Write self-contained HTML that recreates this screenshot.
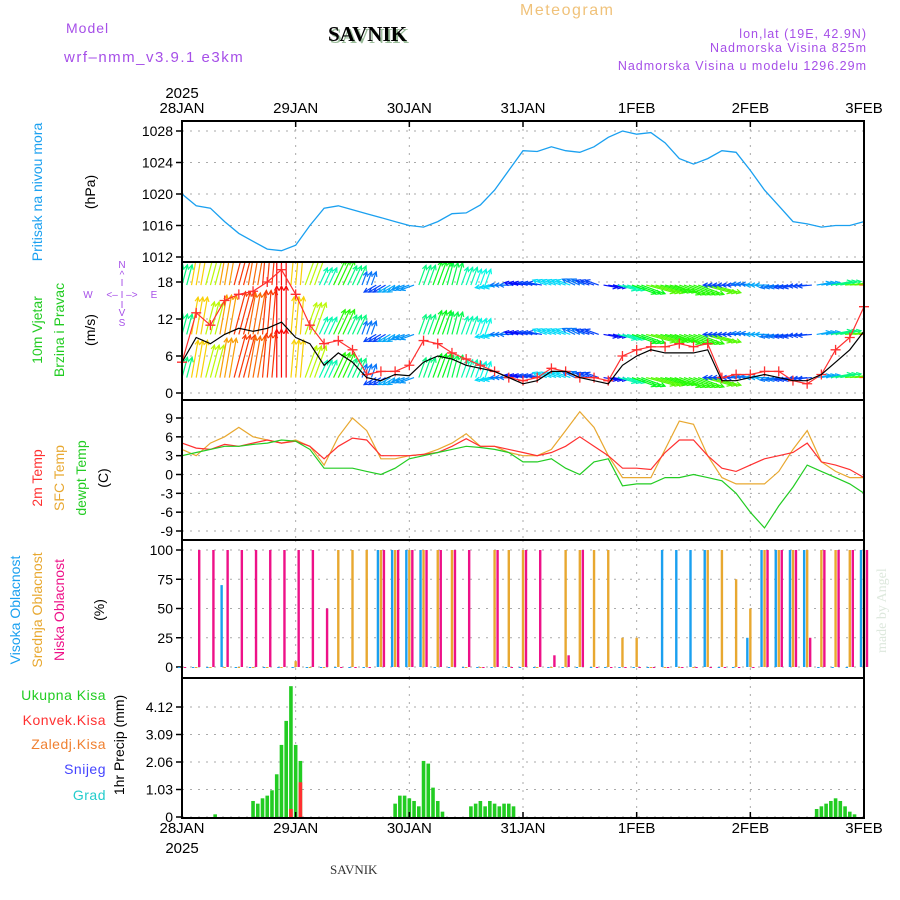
<!DOCTYPE html>
<html><head><meta charset="utf-8">
<style>
body{margin:0;background:#fff;}
svg{display:block;font-family:"Liberation Sans",sans-serif;}
</style></head>
<body>
<svg id="chart" width="900" height="900" viewBox="0 0 900 900" xmlns="http://www.w3.org/2000/svg">
<g>
<text x="66" y="33" font-size="14" fill="#a64fe8" letter-spacing="1">Model</text>
<text x="330" y="43" font-size="21" font-weight="bold" font-family="Liberation Serif,serif" fill="#9b9">SAVNIK</text>
<text x="328" y="41" font-size="21" font-weight="bold" font-family="Liberation Serif,serif" fill="#000">SAVNIK</text>
<text x="520" y="15" font-size="16" fill="#f0c27a" letter-spacing="1.5">Meteogram</text>
<text x="64" y="62" font-size="15" fill="#a64fe8" letter-spacing="1.5">wrf–nmm_v3.9.1 e3km</text>
<text x="867" y="38" font-size="12.5" fill="#a64fe8" text-anchor="end" letter-spacing="1">lon,lat (19E, 42.9N)</text>
<text x="867" y="52" font-size="12.5" fill="#a64fe8" text-anchor="end" letter-spacing="1">Nadmorska Visina 825m</text>
<text x="867" y="70" font-size="12.5" fill="#a64fe8" text-anchor="end" letter-spacing="1">Nadmorska Visina u modelu 1296.29m</text>
<text x="330" y="874" font-size="13" font-family="Liberation Serif,serif" fill="#333">SAVNIK</text>
<text x="0" y="0" font-size="14" fill="#dde8dd" font-family="Liberation Serif,serif" transform="translate(886,653) rotate(-90)">made by Angel</text>
</g>
<g id="plots"></g>
</svg>
<script>
// ---- data (3-hourly, 28JAN 00 .. 3FEB 00) ----
const dayLabels=["28JAN","29JAN","30JAN","31JAN","1FEB","2FEB","3FEB"];
const pressure=[1020,1018.5,1018.2,1016.5,1015,1014,1013,1012.8,1013.5,1016,1018.2,1018.5,1018,1017.5,1017,1016.5,1016,1015.8,1016.5,1017.5,1017.6,1018.6,1020.5,1023,1025.5,1025.4,1026,1025.5,1025.3,1026,1027.2,1028,1027.6,1027.8,1026.5,1024.5,1023.8,1024.5,1025.5,1025.3,1023,1020.5,1018.5,1016.5,1016.2,1015.8,1016,1016,1016.5];
const windSpeed=[5,9,8,9.5,10.5,10,10.5,11.5,9,8,4.5,6.5,5,2.5,2,3,2.8,5,6,5.5,4.5,4,3.5,2.5,1.5,2,3.5,3.5,2.5,2,1.5,4.5,6,7,6.5,6.5,6.5,7,2,2,2.5,3,2.5,2,2,3,5,7,10];
const windGust=[5,13,11,15,16,16.5,18,20,16,11,8,8.5,7,3,3.5,3.5,4.5,8.5,8,6.5,5.5,4.5,3.5,2.5,2,2.5,4,3.5,2.5,2.5,2,6,7,7.5,7.5,8,7.5,8,2.5,3,3,3.5,3.5,2,1.5,3,7,9,14];
const windDir=[15,10,15,10,15,10,5,0,5,20,25,25,25,20,240,240,250,20,20,15,20,20,260,270,280,280,290,290,295,290,100,105,110,105,105,110,110,105,270,270,275,270,260,260,265,80,80,85,90];
const temp2m=[5,4.2,4,4.8,4.5,5,5.5,5,5.3,4.5,2.5,4.5,5.8,5.5,3,3,3,3.2,3.5,4.5,5.7,4.5,4.5,4,3.5,3,3.5,4.5,6,4.5,3,1,1,0.8,3.5,5.5,5.5,3,1,0.5,1.5,2.5,3,3.5,5,2,1.5,0.8,-0.5];
const tempSfc=[4,3,5,6,7.5,6,5.5,5,5.5,4.5,1.5,6,9,7,2.5,2.5,3,3.2,4,5,6.5,4.5,4.5,3.5,3,3,4,7,10,7.5,3,-0.5,-0.5,-0.5,4,8.5,8,3,-0.5,-1.5,-1.5,-1.5,0.5,4,7,2,0.5,-0.5,-0.5];
const dewpt=[3,3.5,4,4.5,4.5,4.8,5,5.5,5.3,4,1,1,1,0.5,0,1,2.5,3,3.5,4,4.5,4.3,4,3.5,2,2,2.5,1,0,2,2.5,-1.8,-1.5,-1.5,-0.5,-0.5,0,-0.5,-1,-3,-6,-8.5,-5,-2,1.5,0.5,-0.5,-1.5,-3];
const cloudLow=[0,100,100,100,100,100,100,100,100,100,50,0,0,0,100,100,100,100,100,100,100,0,100,0,100,100,10,10,100,0,0,0,0,0,0,0,0,0,0,0,0,100,100,100,25,100,100,100,100];
const cloudMid=[0,0,0,0,0,0,0,0,5,0,0,100,100,100,100,100,100,100,100,100,0,0,100,100,100,0,0,100,100,100,100,25,25,0,0,0,0,100,100,75,50,100,100,100,100,100,100,100,100];
const cloudHigh=[0,0,0,70,0,0,0,0,0,0,0,0,0,0,100,100,100,100,0,0,0,0,0,0,0,0,0,0,0,0,0,0,0,0,100,100,100,100,0,0,25,100,100,100,100,0,0,0,100];
const precipHours=[7,15,16,17,18,19,20,21,22,23,24,25,45,46,47,48,49,50,51,52,53,54,55,61,62,63,64,65,66,67,68,69,70,134,135,136,137,138,139,140,141,142];
const precipTotal=[0.1,0.6,0.5,0.7,0.8,1.0,1.6,2.7,3.6,4.9,2.7,2.1,0.5,0.8,0.8,0.7,0.6,0.4,2.1,2.0,1.1,0.6,0.2,0.4,0.5,0.6,0.4,0.6,0.5,0.4,0.5,0.5,0.4,0.3,0.4,0.5,0.6,0.7,0.6,0.4,0.2,0.1];
const precipConv=[0,0,0,0,0,0,0,0,0,0.3,0,1.3,0,0,0,0,0,0,0,0,0,0,0,0,0,0,0,0,0,0,0,0,0,0,0,0,0,0,0,0,0,0,0];
const pTicks=[1012,1016,1020,1024,1028];
const wTicks=[0,6,12,18];
const tTicks=[-9,-6,-3,0,3,6,9];
const cTicks=[0,25,50,75,100];
const prTicks=["0","1.03","2.06","3.09","4.12"];

const NS="http://www.w3.org/2000/svg";
const root=document.getElementById('plots');
const X0=182,X1=864,HOURS=144;
const xh=h=>X0+(X1-X0)*h/HOURS;
const xi=i=>xh(i*3);
function el(tag,attrs,parent){const e=document.createElementNS(NS,tag);for(const k in attrs)e.setAttribute(k,attrs[k]);(parent||root).appendChild(e);return e;}
function lin(d0,d1,r0,r1){return v=>r0+(v-d0)*(r1-r0)/(d1-d0);}

const panels=[
 {top:121,bot:262,y:lin(1012,1028,257,131),ticks:pTicks,name:'pressure'},
 {top:262,bot:400,y:lin(0,18,393,282),ticks:wTicks,name:'wind'},
 {top:400,bot:540,y:lin(-9,9,531,418),ticks:tTicks,name:'temperature'},
 {top:540,bot:678,y:lin(0,100,667,550),ticks:cTicks,name:'cloud'},
 {top:678,bot:818,y:lin(0,4.12,817,707),ticks:prTicks.map(Number),name:'precip'}
];
function line(arr,y,color,name,w){
 const p=el('polyline',{points:arr.map((v,i)=>xi(i).toFixed(1)+','+y(v).toFixed(1)).join(' '),fill:'none',stroke:color,'stroke-width':w||1.2});
 
 
 return p;
}
panels.forEach((P,pi)=>{
 const g=el('g',{});
 
 
 P.ticks.forEach((t,k)=>{
  const yy=P.y(t);
  const gl=el('line',{x1:X0,x2:X1,y1:yy,y2:yy,stroke:'#aaa','stroke-dasharray':'2,6','stroke-width':1},g);
  
  
  el('line',{x1:X0-6,x2:X0,y1:yy,y2:yy,stroke:'#000','stroke-width':1.5},g);
  const lbl=pi===4?prTicks[k]:String(t);
  const tx=el('text',{x:X0-9,y:yy+5,'font-size':14,'text-anchor':'end',fill:'#000'},g);
  tx.textContent=lbl;
  
  
 });
 for(let d=1;d<6;d++){
  const xx=xh(d*24);
  const vl=el('line',{x1:xx,x2:xx,y1:P.top,y2:P.bot,stroke:'#aaa','stroke-dasharray':'2,6'},g);
  
  
 }
 P.g=g;
});
const clip=el('clipPath',{id:'wclip'});el('rect',{x:X0,y:262,width:X1-X0,height:138},clip);

// pressure
line(pressure,panels[0].y,'#1aa0f0','pressure-line',1.3);

// wind arrows
const wg=el('g',{'clip-path':'url(#wclip)'});


const wy=panels[1].y;
[17.5,9.5,2.5].forEach(base=>{
 windSpeed.forEach((s,i)=>{
  const hue=Math.max(0,Math.min(275,275-s*25));
  const col='hsl('+hue+',95%,50%)';
  const L=Math.max(14,s*4.2);
  const a=windDir[i]*Math.PI/180;
  for(let k=0;k<3;k++){
   const x0=xi(i)+k*4.7-4.7,y0=wy(base);
   const x1=x0+L*Math.sin(a),y1=y0-L*Math.cos(a);
   const ar=el('line',{x1:x0,y1:y0,x2:x1,y2:y1,stroke:col,'stroke-width':1.2},wg);
   
   
   const h1=a+Math.PI*0.85,h2=a-Math.PI*0.85;
   el('polyline',{points:(x1+5*Math.sin(h1))+','+(y1-5*Math.cos(h1))+' '+x1+','+y1+' '+(x1+5*Math.sin(h2))+','+(y1-5*Math.cos(h2)),fill:'none',stroke:col,'stroke-width':1.2},wg);
  }
 });
});
const gl=line(windGust,wy,'#ff3030','wind-gust-line',1.2);
windGust.forEach((v,i)=>{const xx=xi(i),yy=wy(v);const m=el('path',{d:`M${xx-5},${yy}H${xx+5}M${xx},${yy-5}V${yy+5}`,stroke:'#ff3030','stroke-width':1.3});});
line(windSpeed,wy,'#000','wind-speed-line',1.2);

// temperature
const ty=panels[2].y;
line(tempSfc,ty,'#e8a830','sfc-temp-line',1.2);
line(temp2m,ty,'#ff3030','temp-2m-line',1.2);
line(dewpt,ty,'#22cc22','dewpoint-line',1.2);

// clouds
const cy=panels[3].y;
[[cloudHigh,'#1aa0f0',-3,'cloud-high-bar'],[cloudMid,'#e8a830',0,'cloud-mid-bar'],[cloudLow,'#ee1188',3,'cloud-low-bar']].forEach(([arr,col,off,nm])=>{
 arr.forEach((v,i)=>{
  const xx=xi(i)+off;
  const b=el('rect',{x:xx-1.2,y:cy(v),width:2.4,height:Math.max(1,cy(0)-cy(v)),fill:col});
  
  
 });
});

// precip
const py=panels[4].y;
precipHours.forEach((h,i)=>{
 const xx=xh(h);
 const b=el('rect',{x:xx-1.8,y:py(precipTotal[i]),width:3.6,height:py(0)-py(precipTotal[i]),fill:'#22cc22'});
 
 
 if(precipConv[i]>0){
  const c=el('rect',{x:xx-1.8,y:py(precipConv[i]),width:3.6,height:py(0)-py(precipConv[i]),fill:'#ff3030'});
  
  
 }
});

// frames
panels.forEach(P=>{
 const f=el('rect',{x:X0,y:P.top,width:X1-X0,height:P.bot-P.top,fill:'none',stroke:'#000','stroke-width':2});
 
 
});
// x axis labels
dayLabels.forEach((d,k)=>{
 const xx=xh(k*24);
 [[113,121,127],[833,812,818]].forEach(([ty_,a,b])=>{
  const t=el('text',{x:xx,y:ty_,'font-size':15,'text-anchor':'middle',fill:'#000'});
  t.textContent=d;
  
  
 });
 el('line',{x1:xx,x2:xx,y1:121,y2:127,stroke:'#000','stroke-width':1.5});
 el('line',{x1:xx,x2:xx,y1:812,y2:818,stroke:'#000','stroke-width':1.5});
});
[[98],[853]].forEach(([yy])=>{const t=el('text',{x:X0,y:yy,'font-size':15,'text-anchor':'middle',fill:'#000'});t.textContent='2025';});

// side labels
function vlabel(txt,x,y,col,size){
 const t=el('text',{x:0,y:0,'font-size':size||13,fill:col,'text-anchor':'middle',transform:`translate(${x},${y}) rotate(-90)`});
 t.textContent=txt;
 
 
}
vlabel('Pritisak na nivou mora',42,192,'#1aa0f0',14);
vlabel('(hPa)',95,192,'#000',14);
vlabel('10m Vjetar',42,330,'#22cc22',14);
vlabel('Brzina i Pravac',64,330,'#22cc22',14);
vlabel('(m/s)',95,330,'#000',14);
vlabel('2m Temp',42,478,'#ff3030',14);
vlabel('SFC Temp',64,478,'#e8a830',14);
vlabel('dewpt Temp',86,478,'#22cc22',14);
vlabel('(C)',108,478,'#000',14);
vlabel('Visoka Oblacnost',20,610,'#1aa0f0',14);
vlabel('Srednja Oblacnost',42,610,'#e8a830',14);
vlabel('Niska Oblacnost',64,610,'#ee1188',14);
vlabel('(%)',104,610,'#000',14);
vlabel('1hr Precip (mm)',124,745,'#000',14);
[['Ukupna Kisa','#22cc22',700],['Konvek.Kisa','#ff3030',725],['Zaledj.Kisa','#f08030',749],['Snijeg','#4444ff',774],['Grad','#22cccc',800]].forEach(([t,c,y])=>{
 const e=el('text',{x:106,y:y,'font-size':14,fill:c,'text-anchor':'end','letter-spacing':'0.5'});
 e.textContent=t;
 
 
});
// compass
const cg=el('g',{fill:'#a64fe8','font-size':10,'text-anchor':'middle'});


[['N',122,268],['^',122,278],['I',122,286],['<– I –>',122,298],['I',122,308],['V',122,316],['S',122,326],['W',88,298],['E',154,298]].forEach(([t,x,y])=>{const e=el('text',{x,y},cg);e.textContent=t;});
</script>
</body></html>
